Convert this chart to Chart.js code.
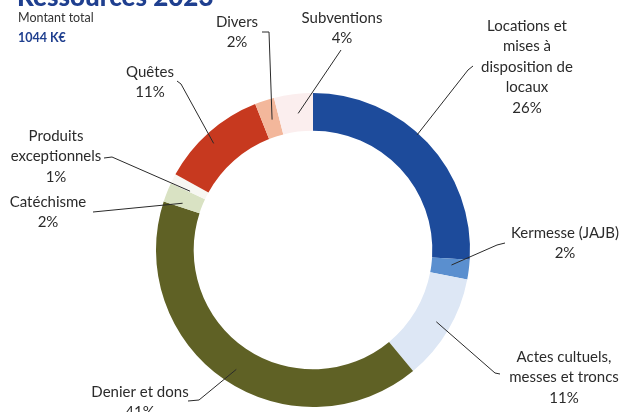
<!DOCTYPE html>
<html>
<head>
<meta charset="utf-8">
<script src="https://cdn.jsdelivr.net/npm/chart.js@4.4.0/dist/chart.umd.min.js"></script>
<style>
html,body{margin:0;padding:0;background:#fff;}
#wrap{position:relative;width:624px;height:412px;}
</style>
</head>
<body>
<div id="wrap"><canvas id="c" width="624" height="412"></canvas></div>
<script>
// ---- data ----
const categories = ["Locations et mises à disposition de locaux", "Kermesse (JAJB)", "Actes cultuels, messes et troncs", "Denier et dons", "Catéchisme", "Produits exceptionnels", "Quêtes", "Divers", "Subventions"];
const percentages = [26, 2, 11, 41, 2, 1, 11, 2, 4];
const labelLines = [
  ["Locations et", "mises à", "disposition de", "locaux"],
  ["Kermesse (JAJB)"],
  ["Actes cultuels,", "messes et troncs"],
  ["Denier et dons"],
  ["Catéchisme"],
  ["Produits", "exceptionnels"],
  ["Quêtes"],
  ["Divers"],
  ["Subventions"]
];
const titleText = "Ressources 2023";
const totalLabel = "Montant total";
const totalValue = "1044 K€";

// ---- styles / layout ----
const colors = ["#1d4b9b", "#5a8fcf", "#dde7f5", "#5f6125", "#d9e2c3", "#f7f7f2", "#c7391f", "#f3b79b", "#fbeeee"];
// label layout: text centre x, first line y, line elbow points, anchor (t along arc, f across ring)
const labelLayout = [
  {x: 527, y: 26, pts: [[473, 66], [468, 70]], t: 0.45, f: 0.95},
  {x: 565, y: 233, pts: [[505, 243], [497, 245]], t: 0.36, f: 0.53},
  {x: 564, y: 357, pts: [[500, 374], [495, 373]], t: 0.49, f: 0.62},
  {x: 140, y: 392, pts: [[188, 401], [199, 400]], t: 0.49, f: 0.60},
  {x: 48, y: 202, pts: [[93, 212]], t: 0.24, f: 0.51},
  {x: 56, y: 136, pts: [[104, 158], [112, 157]], t: 0.10, f: 0.45},
  {x: 150, y: 72, pts: [[177, 81], [181, 84]], t: 0.46, f: 0.70},
  {x: 237, y: 22, pts: [[262, 32], [269, 32]], t: 0.58, f: 0.46},
  {x: 342, y: 18, pts: [[341, 50]], t: 0.57, f: 0.48}
];
const FONT = "Lato, 'Open Sans', sans-serif";
const LINE_H = 20.5;

const labelPlugin = {
  id: 'labels',
  afterDraw(chart) {
    const ctx = chart.ctx;
    const meta = chart.getDatasetMeta(0);
    ctx.save();
    // title (partly cut off at top)
    ctx.fillStyle = "#1f3f8f";
    ctx.font = "900 26px " + FONT;
    ctx.textAlign = "left";
    ctx.textBaseline = "alphabetic";
    ctx.fillText(titleText, 17, 6);
    ctx.fillStyle = "#333";
    ctx.font = "12.5px " + FONT;
    ctx.textBaseline = "middle";
    ctx.fillText(totalLabel, 18, 18);
    ctx.fillStyle = "#1f3f8f";
    ctx.font = "bold 12.5px " + FONT;
    ctx.fillText(totalValue, 18, 38);

    ctx.font = "15px " + FONT;
    ctx.textAlign = "center";
    meta.data.forEach((arc, i) => {
      const L = labelLayout[i];
      const p = arc.getProps(['x', 'y', 'startAngle', 'endAngle', 'innerRadius', 'outerRadius'], true);
      const a = p.startAngle + L.t * (p.endAngle - p.startAngle);
      const r = p.innerRadius + L.f * (p.outerRadius - p.innerRadius);
      const ex = p.x + r * Math.cos(a), ey = p.y + r * Math.sin(a);
      ctx.strokeStyle = "#2a2a2a";
      ctx.lineWidth = 1;
      ctx.beginPath();
      ctx.moveTo(L.pts[0][0], L.pts[0][1]);
      for (let k = 1; k < L.pts.length; k++) ctx.lineTo(L.pts[k][0], L.pts[k][1]);
      ctx.lineTo(ex, ey);
      ctx.stroke();
      ctx.fillStyle = "#2b2b2b";
      const lines = labelLines[i].concat([percentages[i] + "%"]);
      lines.forEach((s, k) => ctx.fillText(s, L.x, L.y + k * LINE_H));
    });
    ctx.restore();
  }
};

new Chart(document.getElementById('c'), {
  type: 'doughnut',
  data: {
    labels: categories,
    datasets: [{
      data: percentages,
      backgroundColor: colors,
      borderWidth: 0
    }]
  },
  options: {
    responsive: false,
    animation: false,
    cutout: '76%',
    layout: {padding: {left: 156, right: 154, top: 93, bottom: 5}},
    plugins: {legend: {display: false}, tooltip: {enabled: false}}
  },
  plugins: [labelPlugin]
});
</script>
</body>
</html>
